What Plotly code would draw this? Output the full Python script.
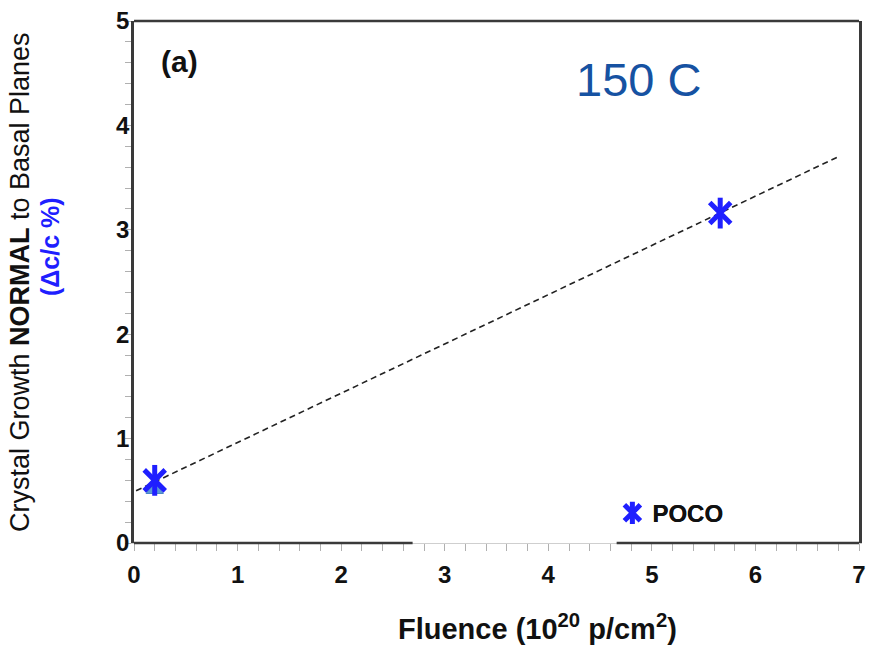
import plotly.graph_objects as go

# ---- data ----
poco_x = [0.20, 5.66]
poco_y = [0.60, 3.16]
tri_x = [0.20]
tri_y = [0.51]
fit_x = [0.02, 6.80]
fit_y = [0.50, 3.70]

x_ticks = [0, 1, 2, 3, 4, 5, 6, 7]
y_ticks = [0, 1, 2, 3, 4, 5]

STAR = "#1f1fff"
FONT = "Arial, Liberation Sans, sans-serif"
FRAME = "#3a3a3a"

fig = go.Figure()

# dashed fit line
fig.add_trace(go.Scatter(x=fit_x, y=fit_y, mode="lines",
                         line=dict(color="#222222", width=1.6, dash="6px,4px"),
                         showlegend=False, hoverinfo="skip"))
# light-blue triangle series
fig.add_trace(go.Scatter(x=tri_x, y=tri_y, mode="markers",
                         marker=dict(symbol="triangle-up", size=15, color="#5d9ad6",
                                     line=dict(color="#4a86c5", width=1)),
                         showlegend=False))
# POCO asterisk: X part + vertical bar, legends overlaid
fig.add_trace(go.Scatter(x=poco_x, y=poco_y, mode="markers", name="POCO",
                         marker=dict(symbol="x-thin-open", size=21, color=STAR,
                                     line=dict(color=STAR, width=5)),
                         legend="legend"))
fig.add_trace(go.Scatter(x=poco_x, y=poco_y, mode="markers", name="POCO",
                         marker=dict(symbol="line-ns-open", size=22, color=STAR,
                                     line=dict(color=STAR, width=5)),
                         legend="legend2"))

leg_common = dict(x=(617 - 134) / 732, y=0.057, xanchor="left", yanchor="middle",
                  bgcolor="rgba(0,0,0,0)", borderwidth=0,
                  font=dict(family=FONT, size=24, color="#111111", weight="bold"),
                  itemsizing="trace")

fig.update_layout(
    width=873, height=647,
    margin=dict(l=134, r=7, t=19, b=104),
    paper_bgcolor="white", plot_bgcolor="white",
    legend=dict(**leg_common),
    legend2=dict(**leg_common),
    xaxis=dict(range=[0, 7], tickvals=x_ticks, showgrid=False, zeroline=False,
               showline=True, linecolor="#cfcfcf", linewidth=1,
               ticks="outside", ticklen=7, tickcolor="#b0b0b0", tickwidth=1,
               minor=dict(dtick=0.2, ticks="outside", ticklen=7,
                          tickcolor="#b0b0b0", tickwidth=1, showgrid=False),
               tickfont=dict(family=FONT, size=24, color="#111111", weight="bold"),
               ticklabelstandoff=3),
    yaxis=dict(range=[0, 5], tickvals=y_ticks, showgrid=False, zeroline=False,
               showline=True, mirror=True, linecolor=FRAME, linewidth=2.5,
               ticks="outside", ticklen=6, tickcolor="#b0b0b0", tickwidth=1,
               minor=dict(dtick=0.2, ticks="outside", ticklen=6,
                          tickcolor="#b0b0b0", tickwidth=1, showgrid=False),
               tickfont=dict(family=FONT, size=24, color="#111111", weight="bold"),
               ticklabelstandoff=-9),
)

# frame: top line and bottom line with a gap (as in the reference)
fig.add_shape(type="line", xref="paper", yref="paper", x0=0, x1=1, y0=1, y1=1,
              line=dict(color=FRAME, width=2.5))
fig.add_shape(type="line", xref="x", yref="paper", x0=0, x1=2.69, y0=0, y1=0,
              line=dict(color=FRAME, width=2.5))
fig.add_shape(type="line", xref="x", yref="paper", x0=4.66, x1=7, y0=0, y1=0,
              line=dict(color=FRAME, width=2.5))

# axis titles as annotations
fig.add_annotation(xref="paper", yref="paper", x=(541 - 134) / 732, y=(543 - 627) / 524,
                   text="<b>Fluence (10<sup>20</sup> p/cm<sup>2</sup>)</b>",
                   showarrow=False, xanchor="center", yanchor="middle",
                   font=dict(family=FONT, size=29, color="#111111"))
fig.add_annotation(xref="paper", yref="paper", x=(19 - 134) / 732, y=(543 - 281) / 524,
                   text="Crystal Growth <b>NORMAL</b> to Basal Planes",
                   textangle=-90, showarrow=False, xanchor="center", yanchor="middle",
                   font=dict(family=FONT, size=27, color="#111111"))
fig.add_annotation(xref="paper", yref="paper", x=(49 - 134) / 732, y=(543 - 245) / 524,
                   text="<b>(Δc/c %)</b>",
                   textangle=-90, showarrow=False, xanchor="center", yanchor="middle",
                   font=dict(family=FONT, size=25, color=STAR))
# panel label and temperature
fig.add_annotation(xref="paper", yref="paper", x=(180 - 134) / 732, y=(543 - 60) / 524,
                   text="<b>(a)</b>", showarrow=False, xanchor="center", yanchor="middle",
                   font=dict(family=FONT, size=30, color="#111111"))
fig.add_annotation(xref="paper", yref="paper", x=(643 - 134) / 732, y=(543 - 78) / 524,
                   text="150 C", showarrow=False, xanchor="center", yanchor="middle",
                   font=dict(family=FONT, size=47, color="#1652a2"))

fig.write_html("out.html")
